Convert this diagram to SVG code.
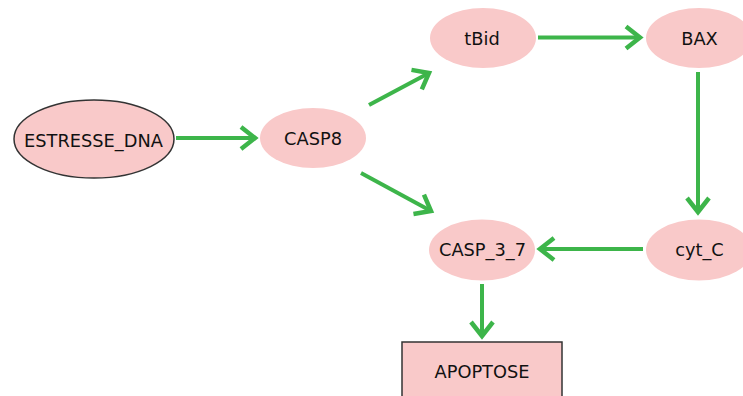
<svg xmlns="http://www.w3.org/2000/svg" width="743" height="396" viewBox="0 0 743 396">
  <defs>
    <style>
      .node { fill: #f9c9c9; }
      .outlined { stroke: #333333; stroke-width: 1.5; }
      .label { font-family: "DejaVu Sans", "Liberation Sans", sans-serif; font-size: 17.8px; fill: #111111; text-anchor: middle; }
      .edge { stroke: #3db54a; stroke-width: 4; fill: none; marker-end: url(#head); }
    </style>
    <marker id="head" markerUnits="userSpaceOnUse" markerWidth="40" markerHeight="40" refX="0" refY="0" orient="auto" overflow="visible">
      <path d="M -14 -11 L 0 0 L -14 11" fill="none" stroke="#3db54a" stroke-width="4.5" stroke-linejoin="miter"/>
    </marker>
  </defs>
  <rect width="743" height="396" fill="#ffffff"/>

  <!-- connectors -->
  <g id="connectors">
    <line class="edge" x1="176" y1="138" x2="255" y2="138"/>
    <line class="edge" x1="369" y1="105" x2="429" y2="73"/>
    <line class="edge" x1="361" y1="173" x2="431" y2="211"/>
    <line class="edge" x1="538" y1="37.5" x2="640" y2="37.5"/>
    <line class="edge" x1="698" y1="72" x2="698" y2="212"/>
    <line class="edge" x1="643" y1="249" x2="540" y2="249"/>
    <line class="edge" x1="482" y1="284" x2="482" y2="336"/>
  </g>

  <!-- nodes -->
  <g id="ESTRESSE_DNA">
    <ellipse class="node outlined" cx="94" cy="139" rx="80" ry="39"/>
    <text class="label" x="93.5" y="146.5">ESTRESSE_DNA</text>
  </g>
  <g id="CASP8">
    <ellipse class="node" cx="313" cy="138" rx="53" ry="30"/>
    <text class="label" x="313" y="145">CASP8</text>
  </g>
  <g id="tBid">
    <ellipse class="node" cx="483" cy="38" rx="53" ry="30"/>
    <text class="label" x="482" y="44.5">tBid</text>
  </g>
  <g id="BAX">
    <ellipse class="node" cx="699" cy="38" rx="53" ry="30"/>
    <text class="label" x="699.5" y="44.5">BAX</text>
  </g>
  <g id="cyt_C">
    <ellipse class="node" cx="699" cy="250" rx="53" ry="30.5"/>
    <text class="label" x="699.5" y="256">cyt_C</text>
  </g>
  <g id="CASP_3_7">
    <ellipse class="node" cx="482" cy="250" rx="53" ry="30.5"/>
    <text class="label" x="482.5" y="256">CASP_3_7</text>
  </g>
  <g id="APOPTOSE">
    <rect class="node outlined" x="402" y="342" width="160" height="60"/>
    <text class="label" x="482" y="378">APOPTOSE</text>
  </g>
</svg>
